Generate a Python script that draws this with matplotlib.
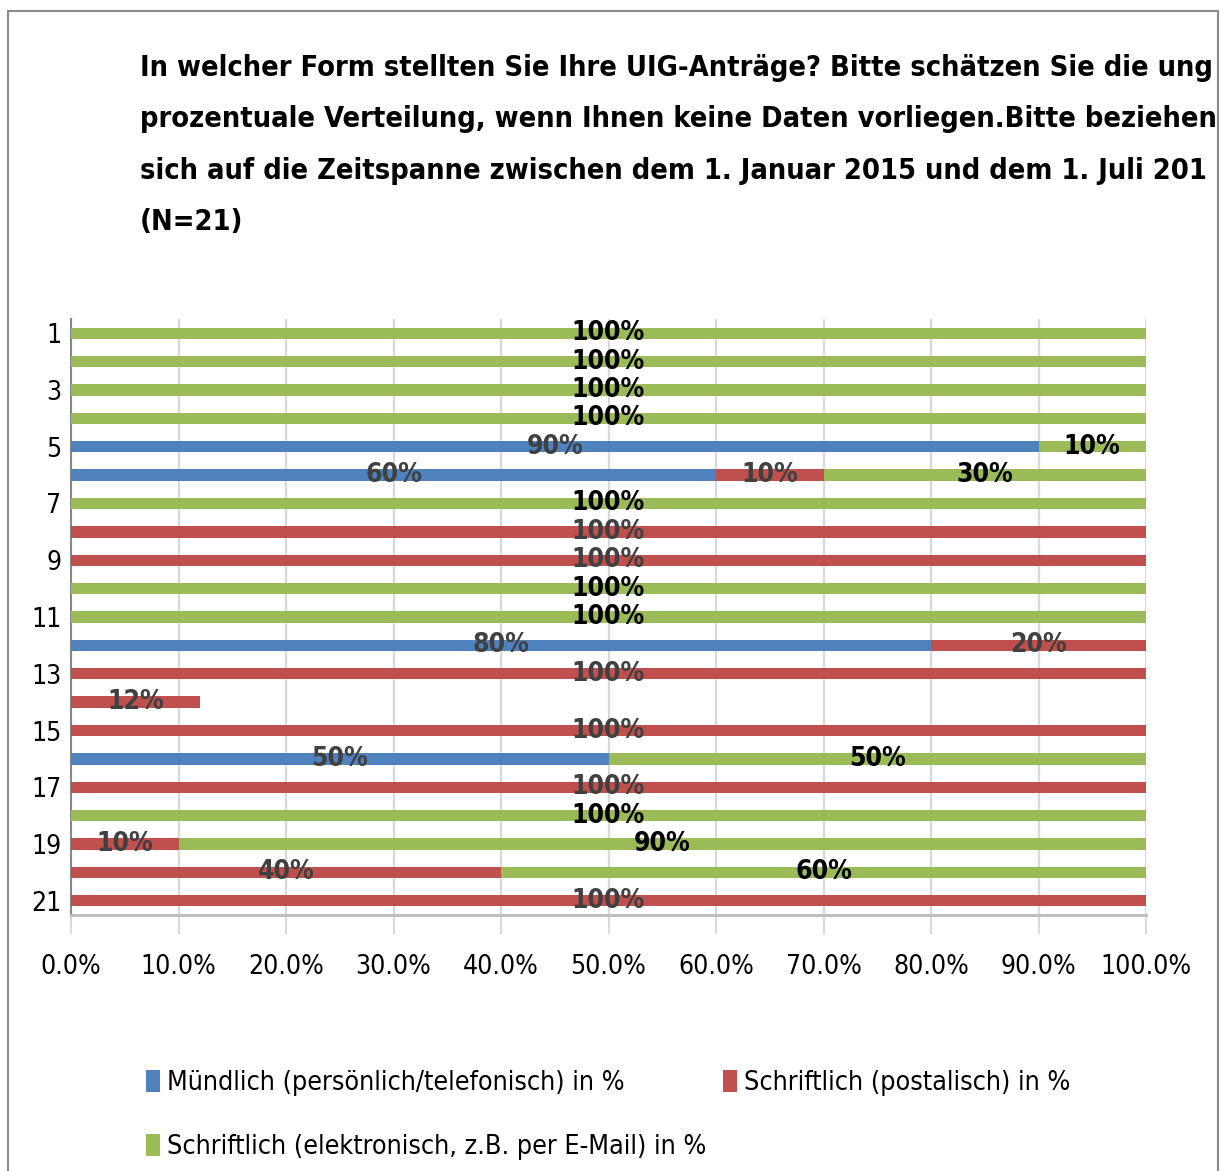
import matplotlib
matplotlib.use('Agg')
import numpy as np
import matplotlib.pyplot as plt
from matplotlib.patches import Patch, Rectangle
from matplotlib.ticker import PercentFormatter

# Daten (Zeilen 1..21, Werte in %)
zeilen = list(range(1, 22))
muendlich = [0, 0, 0, 0, 90, 60, 0, 0, 0, 0, 0, 80, 0, 0, 0, 50, 0, 0, 0, 0, 0]
postalisch = [0, 0, 0, 0, 0, 10, 0, 100, 100, 0, 0, 20, 100, 12, 100, 0, 100, 0, 10, 40, 100]
elektronisch = [100, 100, 100, 100, 10, 30, 100, 0, 0, 100, 100, 0, 0, 0, 0, 50, 0, 100, 90, 60, 0]

serien = [
    ('Mündlich (persönlich/telefonisch) in %', muendlich, '#4F81BD', '#404040'),
    ('Schriftlich (postalisch) in %', postalisch, '#C0504D', '#404040'),
    ('Schriftlich (elektronisch, z.B. per E-Mail) in %', elektronisch, '#9BBB59', 'black'),
]

titel = ('In welcher Form stellten Sie Ihre UIG-Anträge? Bitte schätzen Sie die ung\n'
         'prozentuale Verteilung, wenn Ihnen keine Daten vorliegen.Bitte beziehen\n'
         'sich auf die Zeitspanne zwischen dem 1. Januar 2015 und dem 1. Juli 201\n'
         '(N=21)')

FONT = dict(family='DejaVu Sans', fontstretch='condensed')
W, H = 1220, 1171

fig = plt.figure(figsize=(W / 100, H / 100), dpi=100)
ax = fig.add_axes([71 / W, 1 - 915 / H, (1146 - 71) / W, (915 - 319) / H])

y = np.arange(len(zeilen))
links = np.zeros(len(zeilen))
for name, werte, farbe, tfarbe in serien:
    werte = np.array(werte, dtype=float)
    ax.barh(y, werte, left=links, height=0.4, color=farbe, zorder=3)
    for yi, l, v in zip(y, links, werte):
        if v > 0:
            ax.text(l + v / 2, yi, f'{int(v)}%', ha='center', va='center', color=tfarbe,
                    fontsize=19, fontweight='bold', zorder=5, **FONT)
    links += werte

ax.set_xlim(0, 100)
ax.set_ylim(len(zeilen) - 0.5, -0.5)
ax.set_xticks(np.arange(0, 101, 10))
ax.xaxis.set_major_formatter(PercentFormatter(decimals=1))
ax.set_yticks(y[::2])
ax.set_yticklabels([str(z) for z in zeilen[::2]])

for lab in ax.get_xticklabels() + ax.get_yticklabels():
    lab.set_fontsize(19)
    lab.set_family('DejaVu Sans')
    lab.set_fontstretch('condensed')

ax.tick_params(axis='x', length=14, width=1.5, color='#D9D9D9', pad=14)
ax.tick_params(axis='y', length=0, pad=7)
ax.grid(axis='x', color='#D9D9D9', linewidth=1.6, zorder=0)
ax.set_axisbelow(True)
for s in ['top', 'right']:
    ax.spines[s].set_visible(False)
ax.spines['bottom'].set_color('#BFBFBF')
ax.spines['bottom'].set_linewidth(2.2)
ax.spines['left'].set_color('#868686')
ax.spines['left'].set_linewidth(1.5)

fig.text(140 / W, 1 - 54 / H, titel, ha='left', va='top', fontsize=20.8, fontweight='bold',
         linespacing=2.06, **FONT)

handles = [Patch(facecolor=f, label=n) for n, _, f, _ in serien]
# Reihenfolge so, dass Zeile 1: Mündlich, postalisch; Zeile 2: elektronisch
handles = [handles[0], handles[2], handles[1]]
leg = fig.legend(handles=handles, loc='upper left', bbox_to_anchor=(146 / W, 1 - 1070 / H),
                 ncol=2, frameon=False, borderpad=0, borderaxespad=0,
                 handlelength=0.52, handleheight=0.9, handletextpad=0.28,
                 labelspacing=1.4, columnspacing=0.6,
                 prop={'family': 'DejaVu Sans', 'stretch': 'condensed', 'size': 19.3})

# Rahmen um das Diagramm
fig.add_artist(Rectangle((8 / W, -0.1), (1218 - 8) / W, 1.1 - 11 / H, transform=fig.transFigure,
                         fill=False, edgecolor='#898989', linewidth=1.5))

fig.savefig('out.png', dpi=100)
